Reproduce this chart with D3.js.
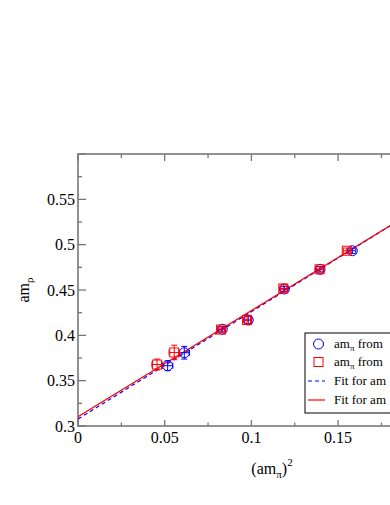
<!DOCTYPE html>
<html>
<head>
<meta charset="utf-8">
<script src="https://cdn.jsdelivr.net/npm/d3@7"></script>
<style>
  body { margin: 0; background: #fff; }
  svg { display: block; font-family: "Liberation Serif", "DejaVu Serif", serif; }
</style>
</head>
<body>
<div id="chart"></div>
<script>
// series 1: am_pi from first method (blue circles)
const blueX = [0.0517, 0.0613, 0.0832, 0.0982, 0.1190, 0.1396, 0.1582];
const blueY = [0.3665, 0.3808, 0.4067, 0.4169, 0.4511, 0.4728, 0.4933];
const blueXErr = [0.003, 0.003, 0.002, 0.002, 0.002, 0.002, 0.002];
const blueYErr = [0.0055, 0.007, 0.003, 0.004, 0.003, 0.003, 0.003];

// series 2: am_pi from second method (red squares)
const redX = [0.0456, 0.0555, 0.0825, 0.0975, 0.1184, 0.1393, 0.1550];
const redY = [0.3678, 0.3811, 0.4064, 0.4169, 0.4517, 0.4728, 0.4933];
const redXErr = [0.003, 0.003, 0.002, 0.002, 0.002, 0.002, 0.002];
const redYErr = [0.006, 0.008, 0.003, 0.004, 0.004, 0.003, 0.003];

// linear fits: intercept, slope
const blueFit = [0.3077, 1.184];
const redFit = [0.3103, 1.170];

// only the ticks that fall inside the visible window
const xTicks = [0, 0.05, 0.1, 0.15];
const yTicks = [0.3, 0.35, 0.4, 0.45, 0.5, 0.55];
const legendLabels = ["from", "from", "Fit for am", "Fit for am"];

const width = 390, height = 505;
const margin = { top: 154, left: 78, bottom: 79 };
const plotW = 1734 * 0.25;
const plotH = height - margin.top - margin.bottom;

const svg = d3.select("#chart").append("svg")
    .attr("width", width)
    .attr("height", height);

const x = d3.scaleLinear().domain([0, 0.25]).range([margin.left, margin.left + plotW]);
const y = d3.scaleLinear().domain([0.3, 0.6]).range([margin.top + plotH, margin.top]);

svg.append("clipPath").attr("id", "plot-clip")
    .append("rect")
    .attr("x", x(0)).attr("y", y(0.6))
    .attr("width", plotW).attr("height", plotH);

const axisColor = "#777";

// frame
svg.append("rect")
    .attr("x", x(0)).attr("y", y(0.6))
    .attr("width", plotW).attr("height", plotH)
    .attr("fill", "none")
    .attr("stroke", axisColor)
    .attr("stroke-width", 1.6);

// ticks (inward), major + minor
const xMinor = d3.range(0.025, 0.2, 0.05);
const yMinor = d3.range(0.325, 0.6, 0.05);
const yMajor = yTicks.concat([0.6]);

const tickG = svg.append("g").attr("stroke", axisColor).attr("stroke-width", 1.3);
xTicks.forEach(v => {
    tickG.append("line").attr("x1", x(v)).attr("x2", x(v)).attr("y1", y(0.3)).attr("y2", y(0.3) - 6);
    tickG.append("line").attr("x1", x(v)).attr("x2", x(v)).attr("y1", y(0.6)).attr("y2", y(0.6) + 7);
});
xMinor.forEach(v => {
    tickG.append("line").attr("x1", x(v)).attr("x2", x(v)).attr("y1", y(0.3)).attr("y2", y(0.3) - 3.5);
    tickG.append("line").attr("x1", x(v)).attr("x2", x(v)).attr("y1", y(0.6)).attr("y2", y(0.6) + 4);
});
yMajor.forEach(v => {
    tickG.append("line").attr("x1", x(0)).attr("x2", x(0) + 8).attr("y1", y(v)).attr("y2", y(v));
});
yMinor.forEach(v => {
    tickG.append("line").attr("x1", x(0)).attr("x2", x(0) + 4).attr("y1", y(v)).attr("y2", y(v));
});

// tick labels
svg.append("g").selectAll("text")
    .data(xTicks)
    .enter().append("text")
    .attr("x", d => x(d))
    .attr("y", y(0.3) + 17)
    .attr("text-anchor", "middle")
    .style("font-size", "16px")
    .text(d => d3.format("")(d));

svg.append("g").selectAll("text")
    .data(yTicks)
    .enter().append("text")
    .attr("x", x(0) - 3)
    .attr("y", d => y(d))
    .attr("dy", "0.35em")
    .attr("text-anchor", "end")
    .style("font-size", "16px")
    .text(d => d3.format("")(d));

// axis titles
const xt = svg.append("text")
    .attr("x", 272)
    .attr("y", 474)
    .attr("text-anchor", "middle")
    .style("font-size", "16px");
xt.append("tspan").text("(am");
xt.append("tspan").attr("dy", 4).style("font-size", "11px").text("π");
xt.append("tspan").attr("dy", -4).text(")");
xt.append("tspan").attr("dy", -8).style("font-size", "11px").text("2");

const yt = svg.append("text")
    .attr("transform", `translate(29,${y(0.45)}) rotate(-90)`)
    .attr("text-anchor", "middle")
    .style("font-size", "16px");
yt.append("tspan").text("am");
yt.append("tspan").attr("dy", 4).style("font-size", "11px").text("ρ");

// fit lines
const plot = svg.append("g").attr("clip-path", "url(#plot-clip)");
const fitLine = d3.line().x(d => x(d[0])).y(d => y(d[1]));
const fitPts = f => [0, 0.25].map(v => [v, f[0] + f[1] * v]);

plot.append("path")
    .attr("d", fitLine(fitPts(blueFit)))
    .attr("fill", "none")
    .attr("stroke", "#0000ff")
    .attr("stroke-width", 1.2)
    .attr("stroke-dasharray", "4,3");

plot.append("path")
    .attr("d", fitLine(fitPts(redFit)))
    .attr("fill", "none")
    .attr("stroke", "#ff0000")
    .attr("stroke-width", 1.2);

// data points with error bars
function drawSeries(xs, ys, xe, ye, color, shape) {
    const g = plot.append("g").attr("stroke", color).attr("fill", "none").attr("stroke-width", 1);
    xs.forEach((xv, i) => {
        const px = x(xv), py = y(ys[i]);
        const top = y(ys[i] + ye[i]), bot = y(ys[i] - ye[i]);
        const lft = x(xv - xe[i]), rgt = x(xv + xe[i]);
        g.append("line").attr("x1", px).attr("x2", px).attr("y1", top).attr("y2", bot);
        g.append("line").attr("x1", px - 3).attr("x2", px + 3).attr("y1", top).attr("y2", top);
        g.append("line").attr("x1", px - 3).attr("x2", px + 3).attr("y1", bot).attr("y2", bot);
        g.append("line").attr("x1", lft).attr("x2", rgt).attr("y1", py).attr("y2", py);
        g.append("line").attr("x1", lft).attr("x2", lft).attr("y1", py - 3).attr("y2", py + 3);
        g.append("line").attr("x1", rgt).attr("x2", rgt).attr("y1", py - 3).attr("y2", py + 3);
        if (shape === "circle") {
            g.append("circle").attr("cx", px).attr("cy", py).attr("r", 5);
        } else {
            g.append("rect").attr("x", px - 4.5).attr("y", py - 4.5).attr("width", 9).attr("height", 9);
        }
    });
}
drawSeries(blueX, blueY, blueXErr, blueYErr, "#0000ff", "circle");
drawSeries(redX, redY, redXErr, redYErr, "#ff0000", "square");

// legend (runs past the right edge, as in the reference)
const lg = svg.append("g").attr("transform", "translate(305,333)");
lg.append("rect")
    .attr("width", 160).attr("height", 80)
    .attr("fill", "#fff")
    .attr("stroke", "#000")
    .attr("stroke-width", 1);

const rowY = [11, 29, 48, 67];
lg.append("circle").attr("cx", 13.5).attr("cy", rowY[0]).attr("r", 5)
    .attr("fill", "none").attr("stroke", "#0000ff");
lg.append("rect").attr("x", 9).attr("y", rowY[1] - 4.5).attr("width", 9).attr("height", 9)
    .attr("fill", "none").attr("stroke", "#ff0000");
lg.append("line").attr("x1", 3).attr("x2", 20).attr("y1", rowY[2]).attr("y2", rowY[2])
    .attr("stroke", "#0000ff").attr("stroke-width", 1.2).attr("stroke-dasharray", "4,3");
lg.append("line").attr("x1", 3).attr("x2", 20).attr("y1", rowY[3]).attr("y2", rowY[3])
    .attr("stroke", "#ff0000").attr("stroke-width", 1.2);

legendLabels.forEach((lab, i) => {
    const t = lg.append("text")
        .attr("x", 29)
        .attr("y", rowY[i] + 4)
        .style("font-size", "13px");
    if (i < 2) {
        t.append("tspan").text("am");
        t.append("tspan").attr("dy", 3).style("font-size", "9px").text("π");
        t.append("tspan").attr("dy", -3).text(" " + lab);
    } else {
        t.append("tspan").text(lab);
    }
});
</script>
</body>
</html>
